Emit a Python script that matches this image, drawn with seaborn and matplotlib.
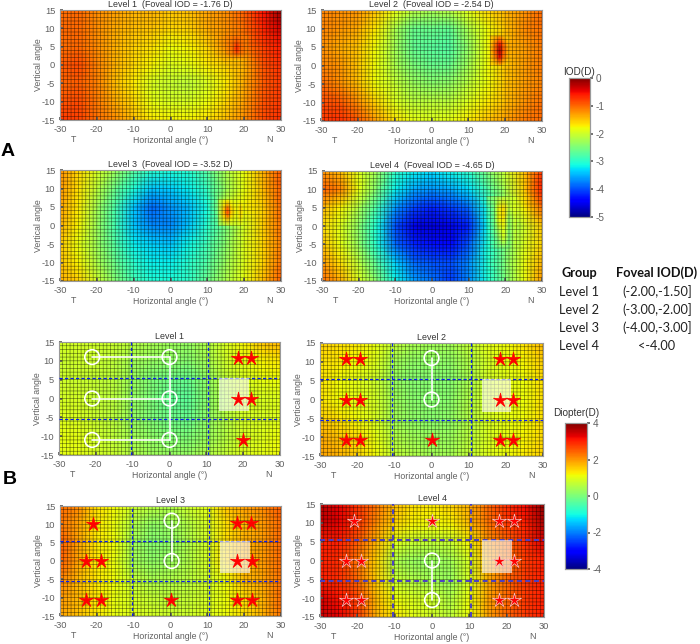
import numpy as np
import pandas as pd
import matplotlib
matplotlib.use("Agg")
import matplotlib.pyplot as plt
from matplotlib.path import Path
import seaborn as sns

W, H = 700, 644

# values, every 5 deg (rows: y = 15 ... -15, cols: x = -30 ... 30)
x_deg = [-30, -25, -20, -15, -10, -5, 0, 5, 10, 15, 20, 25, 30]
y_deg = [15, 10, 5, 0, -5, -10, -15]

a1 = [[-1.05, -1.0, -1.2, -1.3, -1.4, -1.4, -1.5, -1.45, -1.3, -1.2, -0.95, -0.55, -0.1],
      [-1.0, -1.0, -1.2, -1.35, -1.45, -1.5, -1.6, -1.55, -1.35, -1.25, -1.05, -0.65, -0.35],
      [-1.05, -1.0, -1.2, -1.4, -1.55, -1.65, -1.8, -1.75, -1.55, -1.2, -1.1, -0.8, -0.6],
      [-0.95, -0.85, -1.15, -1.4, -1.6, -1.75, -1.9, -1.85, -1.7, -1.55, -1.4, -0.9, -0.7],
      [-1.0, -0.95, -1.15, -1.45, -1.7, -1.95, -2.05, -2.1, -1.95, -1.7, -1.35, -0.95, -0.75],
      [-0.9, -0.85, -1.1, -1.35, -1.6, -1.85, -1.95, -1.95, -1.8, -1.6, -1.3, -0.9, -0.75],
      [-0.75, -0.8, -1.05, -1.2, -1.45, -1.7, -1.75, -1.75, -1.65, -1.45, -1.2, -0.85, -0.7]]
a2 = [[-1.15, -1.2, -1.25, -1.5, -1.8, -2.1, -2.2, -2.1, -1.85, -1.6, -1.4, -1.25, -1.0],
      [-1.15, -1.25, -1.35, -1.7, -2.2, -2.6, -2.6, -2.65, -2.2, -1.8, -1.5, -1.2, -1.05],
      [-1.2, -1.35, -1.5, -1.8, -2.25, -2.65, -2.7, -2.75, -2.35, -1.8, -1.4, -1.3, -1.1],
      [-1.15, -1.25, -1.5, -1.8, -2.2, -2.5, -2.6, -2.6, -2.25, -1.8, -1.5, -1.3, -1.1],
      [-1.0, -1.2, -1.45, -1.8, -2.05, -2.3, -2.4, -2.35, -2.1, -1.8, -1.5, -1.3, -1.15],
      [-0.85, -0.9, -1.2, -1.6, -1.9, -2.1, -2.1, -2.1, -1.9, -1.7, -1.45, -1.25, -1.05],
      [-0.75, -0.7, -0.9, -1.3, -1.65, -1.85, -1.9, -1.85, -1.7, -1.5, -1.3, -1.1, -1.0]]
a3 = [[-1.2, -1.6, -1.95, -2.3, -2.7, -3.0, -3.05, -3.0, -2.7, -2.2, -1.8, -1.4, -0.9],
      [-1.25, -1.65, -2.1, -2.6, -3.05, -3.4, -3.35, -3.2, -2.9, -2.3, -1.85, -1.45, -0.95],
      [-1.3, -1.7, -2.25, -2.8, -3.4, -3.85, -3.65, -3.45, -3.1, -2.0, -1.75, -1.55, -1.0],
      [-1.35, -1.75, -2.3, -2.85, -3.4, -3.7, -3.7, -3.4, -3.0, -2.5, -1.95, -1.55, -1.05],
      [-1.5, -1.85, -2.3, -2.75, -3.2, -3.35, -3.4, -3.15, -2.85, -2.4, -1.9, -1.6, -1.1],
      [-1.45, -1.75, -2.2, -2.6, -3.0, -3.2, -3.2, -3.0, -2.75, -2.3, -1.9, -1.6, -1.05],
      [-1.35, -1.55, -2.0, -2.45, -2.85, -3.05, -3.05, -2.95, -2.6, -2.2, -1.85, -1.45, -0.95]]
a4 = [[-1.25, -1.45, -1.9, -2.3, -2.95, -3.2, -3.3, -3.15, -2.95, -2.5, -2.0, -1.5, -0.75],
      [-0.95, -1.15, -1.85, -2.5, -3.2, -3.55, -3.65, -3.55, -3.3, -2.8, -2.2, -1.55, -0.6],
      [-1.4, -1.75, -2.2, -2.85, -3.65, -4.05, -4.2, -4.1, -3.85, -3.1, -2.4, -1.75, -1.0],
      [-1.6, -1.9, -2.4, -3.1, -4.0, -4.55, -4.6, -4.55, -4.2, -3.2, -2.5, -2.0, -1.5],
      [-1.45, -1.85, -2.35, -3.05, -3.85, -4.2, -4.3, -4.35, -3.95, -3.1, -2.5, -1.95, -1.55],
      [-1.25, -1.65, -2.1, -2.75, -3.35, -3.85, -3.95, -4.0, -3.7, -3.05, -2.45, -1.85, -1.4],
      [-1.0, -1.35, -1.9, -2.45, -3.15, -3.6, -3.8, -4.1, -3.7, -3.1, -2.5, -1.85, -1.25]]
b1 = [[0.85, 0.85, 0.8, 0.75, 0.6, 0.45, 0.35, 0.25, 0.5, 0.9, 1.2, 1.6, 1.75],
      [0.75, 0.8, 0.75, 0.65, 0.4, 0.25, 0.2, 0.1, 0.4, 0.8, 1.0, 1.2, 1.3],
      [0.8, 0.75, 0.7, 0.6, 0.3, 0.05, -0.1, -0.2, 0.2, 0.65, 0.9, 1.05, 1.1],
      [0.85, 0.85, 0.7, 0.6, 0.25, 0.0, -0.25, -0.3, 0.15, 0.55, 0.9, 0.9, 0.95],
      [0.95, 0.9, 0.75, 0.6, 0.25, 0.05, -0.1, -0.2, 0.2, 0.55, 0.85, 0.9, 0.95],
      [1.05, 1.0, 0.8, 0.65, 0.4, 0.2, 0.05, 0.0, 0.25, 0.55, 0.85, 0.95, 1.1],
      [1.0, 1.05, 0.85, 0.75, 0.55, 0.35, 0.3, 0.25, 0.5, 0.7, 0.95, 1.0, 1.15]]
b2 = [[1.5, 1.4, 1.3, 1.05, 0.7, 0.45, 0.4, 0.4, 0.7, 1.0, 1.15, 1.35, 1.7],
      [1.35, 1.3, 1.15, 0.95, 0.4, 0.2, 0.2, 0.2, 0.5, 0.85, 1.0, 1.2, 1.55],
      [1.35, 1.15, 1.0, 0.8, 0.3, 0.1, 0.1, 0.1, 0.45, 0.85, 1.0, 1.1, 1.4],
      [1.35, 1.15, 1.0, 0.85, 0.35, 0.15, 0.1, 0.15, 0.5, 0.85, 1.05, 1.1, 1.4],
      [1.55, 1.35, 1.15, 0.9, 0.4, 0.2, 0.15, 0.2, 0.55, 0.9, 1.05, 1.15, 1.4],
      [1.85, 1.65, 1.4, 1.05, 0.55, 0.35, 0.3, 0.3, 0.6, 0.9, 1.05, 1.2, 1.45],
      [1.9, 1.75, 1.5, 1.15, 0.7, 0.5, 0.4, 0.4, 0.7, 0.95, 1.1, 1.25, 1.5]]
b3 = [[2.4, 2.1, 1.4, 1.15, 0.8, 0.6, 0.5, 0.8, 1.0, 1.6, 1.95, 2.1, 2.5],
      [2.3, 1.9, 1.3, 1.05, 0.5, 0.2, 0.3, 0.55, 0.9, 1.35, 1.7, 1.95, 2.4],
      [2.5, 1.9, 1.3, 1.1, 0.4, 0.1, 0.2, 0.5, 0.85, 1.4, 1.8, 1.95, 2.4],
      [2.5, 1.9, 1.3, 1.05, 0.4, 0.2, 0.3, 0.5, 0.85, 1.4, 1.75, 1.95, 2.4],
      [2.2, 1.7, 1.3, 1.1, 0.7, 0.45, 0.5, 0.6, 0.8, 1.15, 1.7, 1.9, 2.3],
      [2.0, 1.7, 1.3, 1.05, 0.85, 0.7, 0.65, 0.7, 0.85, 1.1, 1.4, 1.75, 2.4],
      [1.9, 1.65, 1.3, 1.05, 0.95, 0.85, 0.8, 0.8, 0.95, 1.1, 1.4, 1.75, 2.3]]
b4 = [[3.6, 3.3, 2.8, 2.3, 1.7, 1.4, 1.3, 1.5, 1.8, 2.4, 2.9, 3.2, 3.9],
      [3.5, 3.3, 2.9, 2.1, 1.5, 1.2, 1.15, 1.2, 1.7, 2.3, 2.8, 3.0, 3.7],
      [3.0, 3.0, 2.5, 1.75, 1.0, 0.75, 0.7, 0.75, 1.2, 2.0, 2.4, 2.9, 3.4],
      [3.0, 2.9, 2.3, 1.5, 0.5, 0.25, 0.25, 0.35, 0.9, 1.8, 2.3, 2.75, 3.0],
      [3.0, 2.9, 2.4, 1.55, 0.75, 0.5, 0.4, 0.3, 0.9, 1.8, 2.4, 2.8, 3.0],
      [3.4, 3.1, 2.7, 1.7, 1.1, 0.9, 0.75, 0.5, 1.1, 1.9, 2.4, 2.8, 3.0],
      [3.5, 3.3, 2.8, 1.8, 1.3, 1.0, 0.85, 0.65, 1.1, 1.9, 2.4, 2.8, 3.0]]

# small blind spot patches on the top maps
spot1_x = [15, 17, 18, 19, 21]
spot1_y = [8, 6, 4.5, 3, 1]
spot1 = [[-1.2, -1.12, -1.1, -1.1, -1.08],
         [-1.2, -1.05, -0.85, -1.05, -1.12],
         [-1.22, -1.0, -0.6, -1.0, -1.15],
         [-1.3, -1.1, -0.95, -1.1, -1.2],
         [-1.5, -1.55, -1.6, -1.5, -1.3]]
spot2_x = [16, 17.5, 18.5, 19.5, 21]
spot2_y = [8, 6, 4, 2, 0]
spot2 = [[-1.55, -1.5, -1.4, -1.5, -1.55],
         [-1.55, -1.05, -0.6, -1.05, -1.5],
         [-1.5, -0.9, -0.15, -0.9, -1.45],
         [-1.55, -1.1, -0.5, -1.1, -1.5],
         [-1.65, -1.6, -1.5, -1.55, -1.6]]
spot3_x = [13, 14.5, 15.5, 16.5, 18, 19, 20]
spot3_y = [7, 5, 3.5, 2, 0]
spot3 = [[-2.2, -1.9, -1.8, -1.9, -1.9, -1.85, -1.8],
         [-2.25, -1.6, -1.1, -1.65, -1.8, -1.6, -1.8],
         [-2.25, -1.45, -0.8, -1.5, -1.85, -1.55, -1.85],
         [-2.3, -1.7, -1.3, -1.75, -1.9, -1.65, -1.9],
         [-2.4, -2.2, -2.1, -2.05, -2.0, -1.95, -1.95]]
spot4_x = [15, 17, 18, 19.5, 21, 23]
spot4_y = [8, 5, 2, -1, -3.5, -6]
spot4 = [[-2.55, -2.4, -2.3, -2.15, -2.1, -1.95],
         [-2.9, -2.5, -1.85, -1.55, -2.1, -1.85],
         [-3.0, -2.55, -1.85, -1.65, -2.4, -1.95],
         [-3.1, -2.6, -2.25, -1.85, -2.45, -2.0],
         [-3.1, -2.7, -2.45, -1.95, -2.5, -2.0],
         [-3.1, -2.75, -2.6, -2.5, -2.5, -2.0]]

tick_x = [-30, -20, -10, 0, 10, 20, 30]
tick_y = [-15, -10, -5, 0, 5, 10, 15]
titles_a = ["Level 1  (Foveal IOD = -1.76 D)", "Level 2  (Foveal IOD = -2.54 D)",
            "Level 3  (Foveal IOD = -3.52 D)", "Level 4  (Foveal IOD = -4.65 D)"]
titles_b = ["Level 1", "Level 2", "Level 3", "Level 4"]

stars_b1 = [(18.5, 10.7), (22.2, 10.7), (18.5, 0), (22.2, 0), (20, -11)]
stars_b2 = [(-23, 10.7), (-19.3, 10.7), (18.3, 10.7), (22, 10.7), (-23, 0), (-19.3, 0), (18.3, 0), (22, 0),
            (-23, -10.7), (-19.3, -10.7), (0, -10.7), (18.3, -10.7), (22, -10.7)]
stars_b3 = [(-21, 10), (18, 10.5), (21.8, 10.5), (-23, 0), (-19, 0), (18, 0), (22, 0),
            (-23, -10.7), (-19, -10.7), (0, -10.7), (18, -10.7), (22, -10.7)]
stars_b4 = [(-21, 10.5), (0, 10.5), (18, 10.5), (22, 10.5), (-23, 0), (-19, 0), (18, 0), (22, 0),
            (-23, -10.5), (-19, -10.5), (18, -10.5), (22, -10.5)]

circles_b1 = [(-21, 11), (0, 11), (-21, 0), (0, 0), (-21, -11), (0, -11)]
links_b1 = [[(-21, 0), (11, 11)], [(-21, 0), (0, 0)], [(-21, 0), (-11, -11)], [(0, 0), (-11, 11)]]
circles_b2 = [(0, 11), (0, 0)]
links_b2 = [[(0, 0), (0, 11)]]
circles_b3 = [(0.3, 11), (0.3, 0)]
links_b3 = [[(0.3, 0.3), (0, 11)]]
circles_b4 = [(0, 0), (0, -10.5)]
links_b4 = [[(0, 0), (-10.5, 0)]]

table_groups = ["Level 1", "Level 2", "Level 3", "Level 4"]
table_iod = ["(-2.00,-1.50]", "(-3.00,-2.00]", "(-4.00,-3.00]", "<-4.00"]

sns.set_theme(style="white")
plt.rcParams['font.family'] = ['Liberation Sans', 'DejaVu Sans']
plt.rcParams['axes.unicode_minus'] = False
GREY = "#606060"
STAR = Path.unit_regular_star(5, innerCircle=0.3)
fig = plt.figure(figsize=(W / 100, H / 100), dpi=100)


def rect(x0, y0, x1, y1):
    return [x0 / W, 1 - y1 / H, (x1 - x0) / W, (y1 - y0) / H]


def panel(box, vals, vmin, vmax, title, cbar_ax=None):
    ax = fig.add_axes(rect(*box))
    df = pd.DataFrame(vals, index=y_deg, columns=x_deg)
    sns.heatmap(df, ax=ax, cmap="jet", vmin=vmin, vmax=vmax, shading="gouraud",
                xticklabels=False, yticklabels=False,
                cbar=cbar_ax is not None, cbar_ax=cbar_ax)
    ax.set_xlim(0, len(x_deg) - 1)
    ax.set_ylim(len(y_deg) - 1, 0)
    ax.set_axis_off()
    # second axes in real degrees, everything else goes here
    ov = fig.add_axes(rect(*box), facecolor="none")
    ov.set_xlim(-30, 30)
    ov.set_ylim(-15, 15)
    ov.set_xticks(tick_x)
    ov.set_yticks(tick_y)
    ov.xaxis.remove_overlapping_locs = False
    ov.yaxis.remove_overlapping_locs = False
    ov.set_xticks(np.arange(-30, 31, 1), minor=True)
    ov.set_yticks(np.arange(-15, 16, 1), minor=True)
    ov.grid(which="minor", color="black", lw=0.45, alpha=0.55)
    for t in ov.xaxis.get_minor_ticks() + ov.yaxis.get_minor_ticks():
        t.gridline.set_snap(False)
    ov.tick_params(which="minor", length=0)
    ov.tick_params(which="major", length=2, direction="in", labelsize=6.7, colors=GREY, pad=3.5, bottom=True, left=True)
    for s in ov.spines.values():
        s.set_color("#999999")
        s.set_linewidth(0.8)
    ov.set_title(title, fontsize=6.4, color="#333333", pad=2.2)
    ov.set_xlabel("Horizontal angle (°)", fontsize=6.3, color=GREY, labelpad=1.5)
    ov.set_ylabel("Vertical angle", fontsize=6.3, color=GREY, labelpad=-1)
    ov.text(-26.3, -20.2, "T", fontsize=6.4, color=GREY, ha="center", va="center")
    ov.text(27, -20.2, "N", fontsize=6.4, color=GREY, ha="center", va="center")
    return ov


def spot(ov, xs, ys, vals, vmin=-5, vmax=0):
    ov.pcolormesh(xs, ys, vals, cmap="jet", vmin=vmin, vmax=vmax, shading="gouraud", zorder=0.5)


def marks(ov, stars, circles, links, dash_w=0.9, star_edge="red", dash_c="#0a1cf0"):
    for v in (-10.5, 10.5):
        ov.axvline(v, color=dash_c, lw=dash_w, ls=(0, (2.6, 1.8)), zorder=3)
    for v in (-5.5, 5.5):
        ov.axhline(v, color=dash_c, lw=dash_w, ls=(0, (2.6, 1.8)), zorder=3)
    ov.fill_between([13.5, 21.5], -3.2, 5.5, color="white", alpha=0.62, lw=0, zorder=3.5)
    for lx, ly in links:
        ov.plot(lx, ly, color="white", lw=1.2, zorder=4)
    cx, cy = zip(*circles)
    ov.scatter(cx, cy, s=112, facecolors="none", edgecolors="white", linewidths=1.2, zorder=5)
    sx, sy = zip(*stars)
    ov.scatter(sx, sy, s=115, marker=STAR, c="red", edgecolors=star_edge, linewidths=0.5, zorder=6)


cax_a = fig.add_axes(rect(569, 78, 590, 217))
cax_b = fig.add_axes(rect(565, 423, 587, 569))

ax_a1 = panel((60, 10, 281, 120), a1, -5, 0, titles_a[0])
ax_a2 = panel((321, 10, 542, 121), a2, -5, 0, titles_a[1])
ax_a3 = panel((60, 170, 281, 281), a3, -5, 0, titles_a[2])
ax_a4 = panel((322, 171, 542, 281), a4, -5, 0, titles_a[3], cbar_ax=cax_a)
spot(ax_a1, spot1_x, spot1_y, spot1)
spot(ax_a2, spot2_x, spot2_y, spot2)
spot(ax_a3, spot3_x, spot3_y, spot3)
spot(ax_a4, spot4_x, spot4_y, spot4)

ax_b1 = panel((59, 342, 280, 455), b1, -4, 4, titles_b[0])
ax_b2 = panel((320, 343, 543, 456), b2, -4, 4, titles_b[1])
ax_b3 = panel((60, 506, 281, 616), b3, -4, 4, titles_b[2])
ax_b4 = panel((320, 504, 544, 617), b4, -4, 4, titles_b[3], cbar_ax=cax_b)
marks(ax_b1, stars_b1, circles_b1, links_b1)
marks(ax_b2, stars_b2, circles_b2, links_b2)
marks(ax_b3, stars_b3, circles_b3, links_b3)
marks(ax_b4, stars_b4, circles_b4, links_b4, dash_w=1.4, star_edge="#f6c6c6", dash_c="#4a3fc8")

for cax, ticks, label, pad in [(cax_a, [-5, -4, -3, -2, -1, 0], "IOD(D)", 2.5), (cax_b, [-4, -2, 0, 2, 4], "Diopter(D)", 5)]:
    cax.set_yticks(ticks)
    cax.tick_params(right=True, length=2, labelsize=7.2, colors=GREY, pad=2)
    cax.set_title(label, fontsize=7.2, color="#333333", pad=pad)
    for s in cax.spines.values():
        s.set_visible(True)
        s.set_color("#999999")
        s.set_linewidth(0.8)

# panel letters and table
fig.text(1 / W, 1 - 152 / H, "A", fontsize=14, fontweight="bold", color="black", ha="left", va="center")
fig.text(3 / W, 1 - 480 / H, "B", fontsize=14, fontweight="bold", color="black", ha="left", va="center")
fig.text(579 / W, 1 - 273 / H, "Group", fontsize=9.2, fontweight="bold", family=["Lato", "DejaVu Sans"], color="#111111", ha="center", va="center")
fig.text(657 / W, 1 - 273 / H, "Foveal IOD(D)", fontsize=9.2, fontweight="bold", family=["Lato", "DejaVu Sans"], color="#111111", ha="center", va="center")
for i in range(4):
    yy = 292 + i * 18
    fig.text(579 / W, 1 - yy / H, table_groups[i], fontsize=9.2, family=["Lato", "DejaVu Sans"], color="#222222", ha="center", va="center")
    fig.text(657 / W, 1 - yy / H, table_iod[i], fontsize=9.2, family=["Lato", "DejaVu Sans"], color="#222222", ha="center", va="center")

fig.savefig("out.png", dpi=100)
